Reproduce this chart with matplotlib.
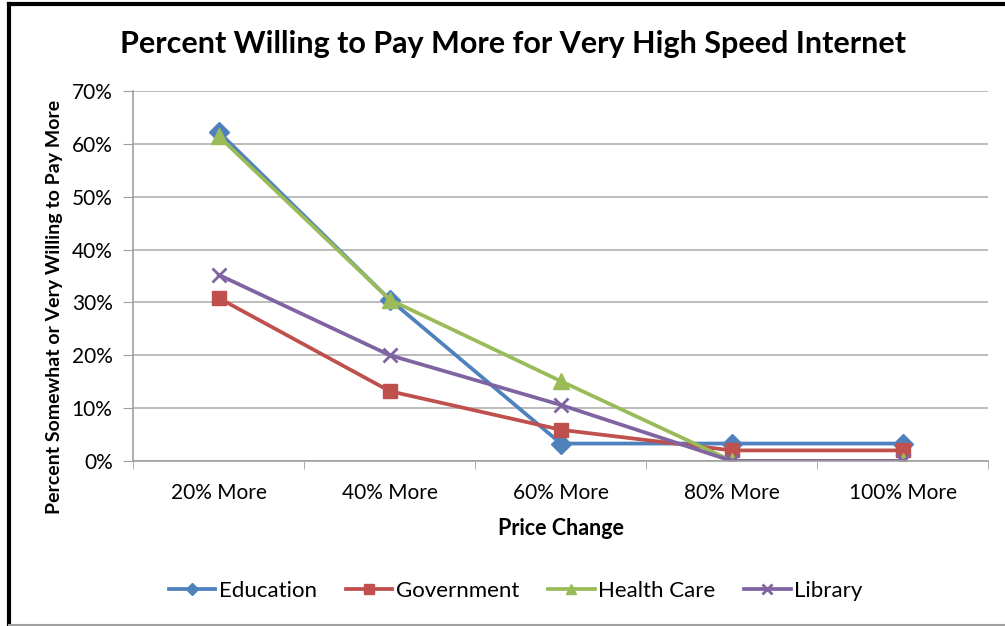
import numpy as np
import matplotlib.pyplot as plt
from matplotlib.lines import Line2D
from matplotlib.ticker import FuncFormatter, MultipleLocator

plt.rcParams['font.family'] = ['Lato', 'DejaVu Sans']

categories = ['20% More', '40% More', '60% More', '80% More', '100% More']
education = [62.2, 30.5, 3.3, 3.3, 3.3]
government = [30.8, 13.2, 5.9, 2.0, 2.0]
health_care = [61.4, 30.5, 15.1, 0.0, 0.0]
library = [35.2, 20.0, 10.6, 0.0, 0.0]

series = [('Education', education, '#4F81BD', 'D', 10),
          ('Government', government, '#C0504D', 's', 10),
          ('Health Care', health_care, '#9BBB59', '^', 11),
          ('Library', library, '#8064A2', 'x', 10)]

fig = plt.figure(figsize=(10.05, 6.26), dpi=100)
ax = fig.add_axes([0.1328, 0.2636, 0.8507, 0.591])

x = np.arange(len(categories))
for name, vals, col, mk, ms in series:
    ax.plot(x, vals, color=col, lw=2.7, marker=mk, markersize=ms,
            markeredgewidth=2 if mk == 'x' else 1, markeredgecolor=col,
            label=name)

ax.set_xlim(-0.5, len(categories) - 0.5)
ax.set_ylim(0, 70)
ax.yaxis.set_major_locator(MultipleLocator(10))
ax.yaxis.set_major_formatter(FuncFormatter(lambda v, p: '%d%%' % v))
ax.set_xticks(x)
ax.set_xticklabels(categories)
ax.set_xticks(np.arange(-0.5, len(categories)), minor=True)
ax.tick_params(axis='x', which='major', length=0, pad=16, labelsize=15)
ax.tick_params(axis='x', which='minor', length=6, color='#A0A0A0')
ax.tick_params(axis='y', length=7, color='#A0A0A0', labelsize=15, pad=8)
ax.grid(axis='y', color='#B0B0B0', lw=1.2)
ax.set_axisbelow(True)
for s in ['top', 'right']:
    ax.spines[s].set_visible(False)
for s in ['left', 'bottom']:
    ax.spines[s].set_color('#A0A0A0')
    ax.spines[s].set_linewidth(1.2)

ax.set_xlabel('Price Change', fontsize=15.5, fontweight='bold', labelpad=11)
ax.set_ylabel('Percent Somewhat or Very Willing to Pay More', fontsize=14,
              fontweight='bold')
ax.yaxis.set_label_coords(-0.083, 0.416)
fig.text(0.51, 0.93, 'Percent Willing to Pay More for Very High Speed Internet',
         ha='center', va='center', fontsize=22, fontweight='bold')

fig.legend(loc='center', bbox_to_anchor=(0.513, 0.056), ncol=4, frameon=False,
           fontsize=16, handlelength=2.1, columnspacing=1.3, handletextpad=0.15,
           markerscale=0.65)

# chart border
fig.add_artist(Line2D([0.009, 0.009], [0.002, 0.994], color='black', lw=3))
fig.add_artist(Line2D([0.009, 1.0], [0.994, 0.994], color='black', lw=3))
fig.add_artist(Line2D([0.009, 1.0], [0.002, 0.002], color='#A0A0A0', lw=1.5))

fig.savefig('out.png', dpi=100)
